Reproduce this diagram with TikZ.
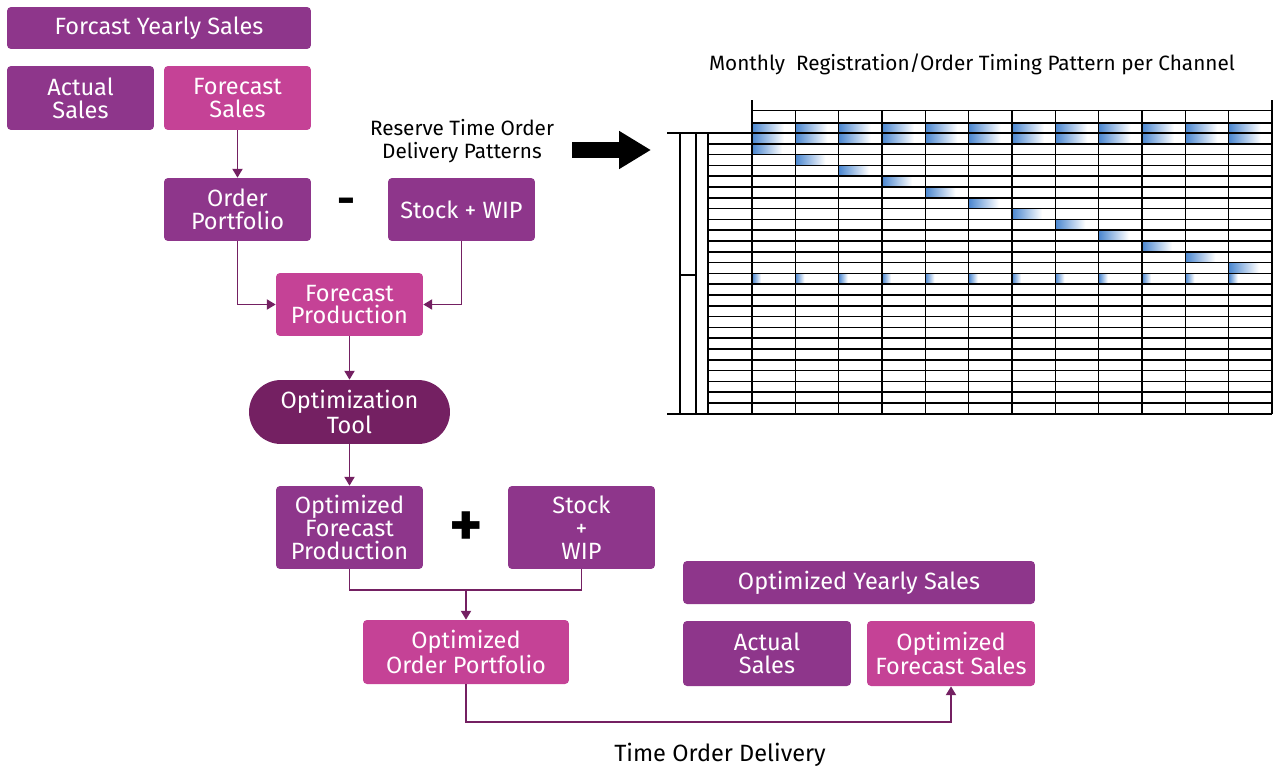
\documentclass[tikz,border=0pt]{standalone}
\usepackage{fontspec}
\setmainfont{Fira Sans}
\usetikzlibrary{arrows.meta}
\definecolor{boxpurple}{RGB}{142,54,139}
\definecolor{boxpink}{RGB}{197,66,150}
\definecolor{tooldark}{RGB}{116,32,98}
\definecolor{linkcol}{RGB}{116,32,98}
\definecolor{cellblue}{RGB}{74,134,207}

\begin{document}
\begin{tikzpicture}[x=0.02cm,y=-0.02cm]
\tikzset{box/.style = {shape=rectangle,rounded corners=0.08cm,fill=boxpurple,text=white,align=center,inner sep=0pt,font=\fontsize{13.4}{12.9}\selectfont}}
\tikzset{pinkbox/.style = {box,fill=boxpink}}
\tikzset{toolbox/.style = {box,fill=tooldark,rounded corners=0.64cm}}
\tikzset{edge/.style = {draw=linkcol,line width=1pt,-{Triangle[width=5.7pt,length=5pt]}}}
\tikzset{link/.style = {draw=linkcol,line width=1pt}}
\tikzset{note/.style = {align=center,font=\fontsize{11.8}{13.2}\selectfont}}
\tikzset{gridline/.style = {line width=0.9pt}}

\useasboundingbox (0,0) rectangle (1276,768);

%boxes
\node[box, minimum width=6.08cm, minimum height=0.84cm] (fys) at (159,28) {Forcast Yearly Sales};
\node[box, minimum width=2.94cm, minimum height=1.28cm] (as1) at (80.5,98) {Actual\\Sales};
\node[pinkbox, minimum width=2.94cm, minimum height=1.28cm] (fs1) at (237.5,98) {Forecast\\Sales};
\node[box, minimum width=2.94cm, minimum height=1.26cm] (op) at (237.5,209.5) {Order\\Portfolio};
\node[box, minimum width=2.94cm, minimum height=1.26cm] (sw1) at (461.5,209.5) {Stock + WIP};
\node[pinkbox, minimum width=2.94cm, minimum height=1.26cm] (fp) at (349.5,304.5) {Forecast\\Production};
\node[toolbox, minimum width=4.02cm, minimum height=1.28cm] (tool) at (349.5,412) {Optimization\\Tool};
\node[box, minimum width=2.94cm, minimum height=1.66cm] (ofp) at (349.5,527.5) {Optimized\\Forecast\\Production};
\node[box, minimum width=2.94cm, minimum height=1.66cm] (sw2) at (581.5,527.5) {Stock\\+\\WIP};
\node[pinkbox, minimum width=4.12cm, minimum height=1.28cm] (oop) at (466,652) {Optimized\\Order Portfolio};
\node[box, minimum width=7.04cm, minimum height=0.86cm] (oys) at (859,582.5) {Optimized Yearly Sales};
\node[box, minimum width=3.36cm, minimum height=1.30cm] (as2) at (767,653.5) {Actual\\Sales};
\node[pinkbox, minimum width=3.36cm, minimum height=1.30cm] (ofs) at (951,653.5) {Optimized\\Forecast Sales};

%signs and notes
\node[font=\bfseries\fontsize{25}{25}\selectfont] (minus) at (346,206) {-};
\node[font=\bfseries\fontsize{36}{36}\selectfont] (plus) at (466,529) {+};
\node[note] (patterns) at (462,141) {Reserve Time Order\\Delivery Patterns};
\node[note] (title) at (972,64) {Monthly\ \ Registration/Order Timing Pattern per Channel};
\node[font=\fontsize{13.4}{15}\selectfont] (tod) at (720,755) {Time Order Delivery};

%edges
\draw[edge] (fs1.south) -- (op.north);
\draw[edge] (op.south) |- (fp.west);
\draw[edge] (sw1.south) |- (fp.east);
\draw[edge] (fp.south) -- (tool.north);
\draw[edge] (tool.south) -- (ofp.north);
\coordinate (join) at (466,590);
\draw[link] (ofp.south) |- (join) -| (sw2.south);
\draw[edge] (join) -- (oop.north);
\draw[edge] (oop.south) -- ++(0,38) -| (ofs.south);

%big arrow to the table
\coordinate (arrowstart) at (572,150);
\coordinate (arrowend) at (651,150);
\draw[line width=0.32cm,-{Triangle[length=0.64cm,width=0.72cm]}] (arrowstart) -- (arrowend);

%table shading
\foreach \i in {0,...,11} {
  \shade[left color=cellblue, right color=white] ({752+43.33*\i},123) rectangle +(32,21);
  \shade[left color=cellblue, right color=white] ({752+43.33*\i},{133+10.8*13}) rectangle +(9,10.8);
}
\foreach \k in {1,...,12}
  \shade[left color=cellblue, right color=white] ({752+43.33*(\k-1)},{133+10.8*\k}) rectangle +(30,10.8);

%table grid
\foreach \k in {1,...,25}
  \draw[gridline] (708,{133+10.8*\k}) -- (1272,{133+10.8*\k});
\draw[gridline] (667,133) -- (1272,133);
\draw[gridline] (667,414) -- (1272,414);
\draw[gridline] (752,110.7) -- (1272,110.7);
\draw[gridline] (752,123) -- (1272,123);
\foreach \i in {1,...,11}
  \draw[gridline] ({752+43.33*\i},110.7) -- ({752+43.33*\i},414);
\draw[gridline] (752,100) -- (752,414);
\draw[gridline] (1272,100) -- (1272,414);
\draw[gridline] (708,133) -- (708,414);
\draw[gridline] (680,133) -- (680,414);
\draw[gridline] (696,133) -- (696,414);
\draw[gridline] (680,275) -- (696,275);

\end{tikzpicture}
\end{document}
